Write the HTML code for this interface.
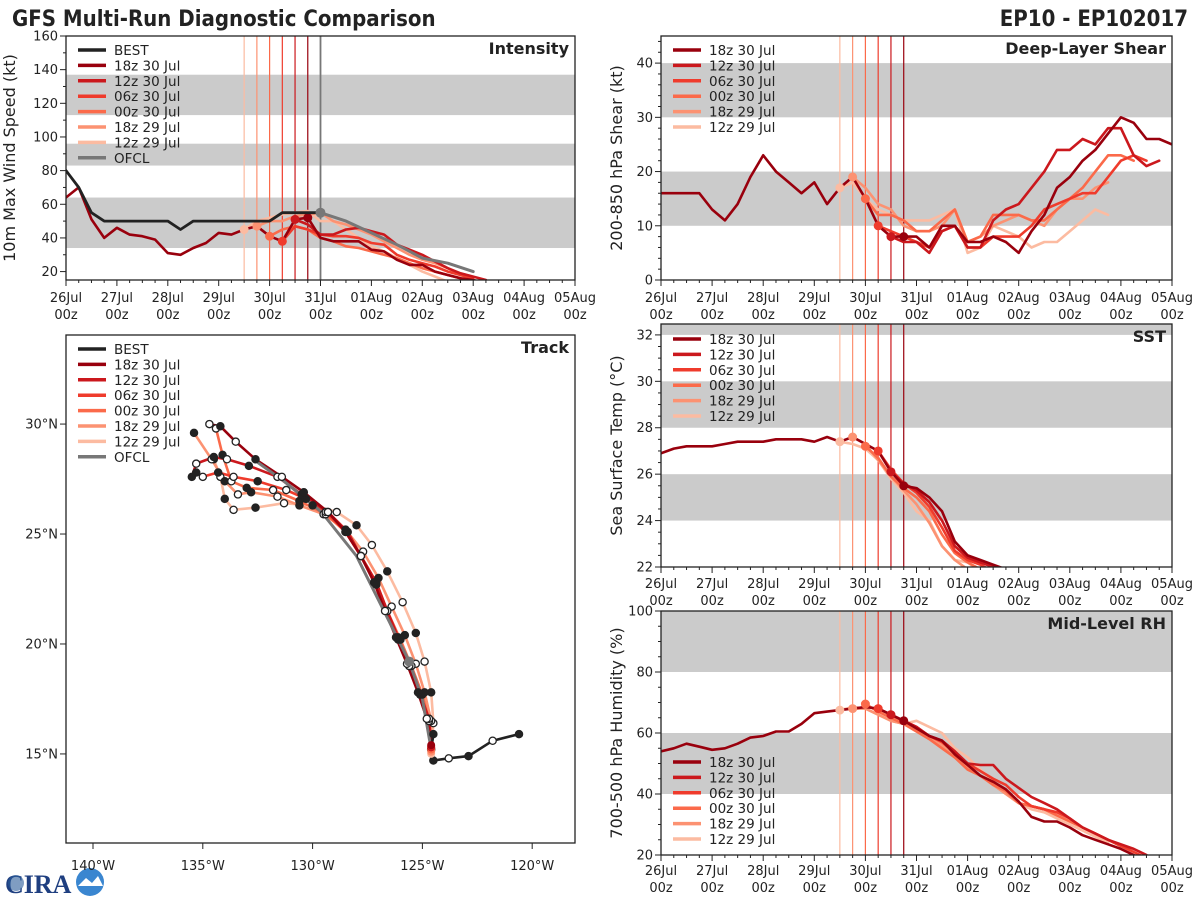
<!DOCTYPE html>
<html><head><meta charset="utf-8">
<style>
html,body{margin:0;padding:0;background:#fff;}
svg{display:block;font-family:"DejaVu Sans","Liberation Sans",sans-serif;}
.cond{font-family:"DejaVu Sans Condensed","DejaVu Sans","Liberation Sans",sans-serif;font-stretch:condensed;}
</style></head>
<body>
<svg id="fig" xmlns="http://www.w3.org/2000/svg" width="1200" height="900" viewBox="0 0 1200 900">
<text class="cond" x="12" y="26" font-size="22" font-weight="bold" fill="#222">GFS Multi-Run Diagnostic Comparison</text>
<text class="cond" x="1188" y="26" font-size="22" font-weight="bold" fill="#222" text-anchor="end">EP10 - EP102017</text>
<g id="logo">
<text x="5" y="893" font-size="26" font-weight="bold" fill="#1f3f80" font-family="Liberation Serif,serif">CIRA</text>
<circle cx="16" cy="883" r="8" fill="#2a5b9a" opacity="0.6"/>
<circle cx="90" cy="882" r="14" fill="#3a86d0"/><path d="M78 886 L86 878 L92 883 L98 876 L103 886 Z" fill="#fff"/>
</g>
</svg>
<script>
// ---------- shared ----------
const runNames = ["12z 29 Jul","18z 29 Jul","00z 30 Jul","06z 30 Jul","12z 30 Jul","18z 30 Jul"];
const runColors = ["#fcbba1","#fc9272","#fb6a4a","#ef3b2c","#cb181d","#99000d"];
const runStart = [3.5,3.75,4.0,4.25,4.5,4.75];
const dayLabels = ["26Jul","27Jul","28Jul","29Jul","30Jul","31Jul","01Aug","02Aug","03Aug","04Aug","05Aug"];

// ---------- intensity (kt) ----------
const intHist = [64,70,51,40,46,42,41,39,31,30,34,37,43,42,45,47,41,38,51,52];
const intBest = [80,70,55,50,50,50,50,50,50,45,50,50,50,50,50,50,50,55,55,55,55];
const intRuns = [
 [45,50,52,54,55,56,50,50,45,40,35,32,28,24,20,17,14],
 [47,50,50,53,54,55,50,48,45,42,38,34,30,27,25,22,18,15],
 [41,45,47,45,40,38,35,34,32,30,28,25,22,20,18,16],
 [38,47,45,42,41,41,40,37,36,30,27,25,23,20,18,16],
 [51,48,42,42,45,46,44,42,36,33,30,26,22,19,17,15],
 [52,40,38,38,38,33,32,27,24,24,20,18,16,15,13]];
const ofclDays = [5,5.5,6,6.5,7,7.5,8];
const ofclVals = [55,50,43,36,28,25,20];

// ---------- shear (kt) ----------
const shrHist = [16,16,16,16,13,11,14,19,23,20,18,16,18,14,17,19,15,10,8,8];
const shrRuns = [
 [17,18,15,13,12,11,11,11,12,13,5,6,10,9,8,6,7,7,9,11,13,12],
 [19,17,14,13,10,9,9,10,13,7,8,10,11,12,11,10,13,15,15,17,18],
 [15,12,12,11,9,9,11,13,7,8,12,12,12,11,11,13,15,17,20,23,23,22],
 [10,9,8,7,6,9,10,6,6,8,8,8,10,13,14,15,16,16,19,22,23,22],
 [8,7,7,5,9,10,6,6,11,13,14,17,20,24,24,26,25,28,28,23,21,22],
 [8,8,6,10,10,7,7,8,7,5,9,12,17,19,22,24,27,30,29,26,26,25]];

// ---------- SST (C) ----------
const sstHist = [26.9,27.1,27.2,27.2,27.2,27.3,27.4,27.4,27.4,27.5,27.5,27.5,27.4,27.6,27.4,27.6,27.3,27.0,26.1,25.5];
const sstRuns = [
 [27.4,27.3,27.1,26.6,25.8,25.2,24.4,24.0,22.9,22.3,22.2,21.8],
 [27.6,27.3,26.6,25.9,25.3,24.7,23.9,22.9,22.3,21.9],
 [27.2,26.7,25.9,25.4,25.0,24.4,23.4,22.6,22.2,21.9],
 [27.0,26.2,25.6,25.2,24.6,23.7,22.7,22.3,22.1,21.8],
 [26.1,25.6,25.3,24.8,24.0,22.9,22.4,22.2,22.0,21.8],
 [25.5,25.4,25.0,24.4,23.1,22.5,22.3,22.1,21.9]];

// ---------- RH (%) ----------
const rhHist = [54,55,56.5,55.5,54.5,55,56.5,58.5,59,60.5,60.5,63,66.5,67,67.5,68,68.5,68,66,64];
const rhRuns = [
 [67.5,68.5,68,66,64,63,64,62,60,55,52,48,44,40,37,35,34,32,30,28,26,24],
 [68,68,66,64,63,61,59,56,52,49,46,43,40,37,36,35,33,31,29,27,25,23],
 [69.5,67,65,63,60.5,58,55,52,48,46,43,41,37,36,35,33,31,29,27,25,23],
 [68,66,64,62,59,57,53.5,50,47.5,45,43,39,36,35,34,32,29,27,25,23,21,19],
 [66,64,62,59,57.5,54,50,49.5,49.5,45,42,39,37,35,32,29,27,25,23.5,22,20],
 [64,61.5,59,57.5,53,49.5,46,44,41.5,37.5,32.5,31,31,29,26.5,25,23.5,22,20,18]];

// ---------- track (deg W, deg N), 12h points ----------
const bestLon = [120.6,121.8,122.9,123.8,124.5,124.6,124.5];
const bestLat = [15.9,15.6,14.9,14.8,14.7,15.2,15.9];
const trkLon = [
 [124.6,124.5,124.6,124.9,125.3,125.9,126.6,127.3,128.0,128.9,130.0,131.3,132.6,133.6,134.0,134.2,134.5],
 [124.6,124.6,124.9,125.3,125.8,126.4,127.0,127.7,128.5,129.5,130.6,131.6,132.8,133.4,134.0,134.6,135.4],
 [124.6,124.7,125.0,125.5,126.0,126.6,127.1,127.8,128.5,129.4,130.6,131.8,133.0,133.7,134.1,134.4],
 [124.6,124.7,125.1,125.6,126.1,126.6,127.1,127.8,128.5,129.4,130.3,131.2,132.5,133.6,134.3,135.0,135.3],
 [124.6,124.7,125.1,125.6,126.1,126.6,127.1,127.8,128.4,129.3,130.5,131.6,132.9,133.9,134.5,135.3,135.5],
 [124.6,124.8,125.2,125.7,126.2,126.7,127.2,127.8,128.5,129.3,130.4,131.4,132.6,133.5,134.2,134.7]];
const trkLat = [
 [15.0,16.4,17.8,19.2,20.5,21.9,23.3,24.5,25.4,26.0,26.3,26.4,26.2,26.1,26.6,27.6,28.4],
 [15.1,16.5,17.8,19.1,20.4,21.7,23.0,24.2,25.2,25.9,26.3,26.7,26.9,26.8,27.4,28.4,29.6],
 [15.2,16.5,17.7,19.0,20.2,21.5,22.8,24.0,25.1,25.9,26.5,27.0,27.1,27.4,28.6,29.8],
 [15.3,16.6,17.7,19.0,20.2,21.5,22.7,24.0,25.1,26.0,26.6,27.0,27.4,27.6,27.8,27.6,27.8],
 [15.3,16.6,17.7,19.0,20.3,21.5,22.8,24.0,25.1,26.0,26.8,27.6,28.1,28.4,28.5,28.2,27.6],
 [15.4,16.6,17.8,19.1,20.3,21.5,22.8,24.0,25.1,26.0,26.9,27.6,28.4,29.2,29.9,30.0]];
const ofclLon = [124.6,125.0,125.6,126.8,128.0,129.6,131.3,132.7];
const ofclLat = [15.2,17.5,19.2,21.6,24.0,26.0,27.4,28.4];

// ---------- drawing ----------
const NS = "http://www.w3.org/2000/svg";
const svg = document.getElementById('fig');
function mk(tag, attrs, parent){ const e=document.createElementNS(NS,tag); for(const k in attrs) e.setAttribute(k,attrs[k]); (parent||svg).appendChild(e); return e; }

function makePanel(p){
  const g = mk('g',{});
  
  
  const sx = v => p.x0 + (v - p.xmin)/(p.xmax - p.xmin)*(p.x1 - p.x0);
  const sy = v => p.y1 - (v - p.ymin)/(p.ymax - p.ymin)*(p.y1 - p.y0);
  const cid = 'clip-' + p.name;
  const cp = mk('clipPath',{id:cid}, g); mk('rect',{x:p.x0,y:p.y0,width:p.x1-p.x0,height:p.y1-p.y0},cp);
  const plot = mk('g',{'clip-path':'url(#'+cid+')'}, g);
  (p.bands||[]).forEach(b=>{
    const r = mk('rect',{x:p.x0,y:sy(b[1]),width:p.x1-p.x0,height:sy(b[0])-sy(b[1]),fill:'#cbcbcb'},plot);
    
    
  });
  return {g,plot,sx,sy,p};
}
function axes(P, opt){
  const {g,sx,sy,p} = P;
  opt.xt.forEach((v,i)=>{
    mk('line',{x1:sx(v),x2:sx(v),y1:p.y1,y2:p.y1+6,stroke:'#222','stroke-width':1},g);
    const t = mk('text',{x:sx(v),y:p.y1+opt.xly,'font-size':13,'text-anchor':'middle',fill:'#222'},g);
    
    
    if(opt.xl2){
      const a=mk('tspan',{x:sx(v)},t); a.textContent=opt.xl[i];
      const b=mk('tspan',{x:sx(v),dy:17},t); b.textContent=opt.xl2;
    } else t.textContent = opt.xl[i];
  });
  (opt.xm||[]).forEach(v=>mk('line',{x1:sx(v),x2:sx(v),y1:p.y1,y2:p.y1+3,stroke:'#222','stroke-width':1},g));
  opt.yt.forEach((v,i)=>{
    mk('line',{x1:p.x0-6,x2:p.x0,y1:sy(v),y2:sy(v),stroke:'#222','stroke-width':1},g);
    const t = mk('text',{x:p.x0-8,y:sy(v)+4.5,'font-size':13,'text-anchor':'end',fill:'#222'},g);
    
    
    t.textContent = opt.yl ? opt.yl[i] : v;
  });
  (opt.ym||[]).forEach(v=>mk('line',{x1:p.x0-3,x2:p.x0,y1:sy(v),y2:sy(v),stroke:'#222','stroke-width':1},g));
  mk('rect',{x:p.x0,y:p.y0,width:p.x1-p.x0,height:p.y1-p.y0,fill:'none',stroke:'#222','stroke-width':1.3},g);
  if(opt.title){
    const t = mk('text',{x:p.x1-6,y:p.y0+18,'font-size':16,'font-weight':'bold','text-anchor':'end',fill:'#222'},g);
    
    
    t.textContent = opt.title;
  }
  if(opt.ylabel){
    const cy=(p.y0+p.y1)/2;
    const t = mk('text',{x:opt.ylx,y:cy,'font-size':16,'text-anchor':'middle',fill:'#222',transform:'rotate(-90 '+opt.ylx+' '+cy+')'},g);
    
    
    t.textContent = opt.ylabel;
  }
}
function line(P, xs, ys, color, w, name){
  const d = xs.map((x,i)=>(i?'L':'M')+P.sx(x).toFixed(1)+' '+P.sy(ys[i]).toFixed(1)).join(' ');
  const e = mk('path',{d:d,fill:'none',stroke:color,'stroke-width':w,'stroke-linejoin':'round','stroke-linecap':'round'},P.plot);
  
  
  return e;
}
function dot(P,x,y,color,r,stroke){
  const c = mk('circle',{cx:P.sx(x),cy:P.sy(y),r:r,fill:color,stroke:stroke||'none','stroke-width':1.3},P.plot);
  
  
}
function initLines(P, extra){
  runStart.forEach((d,i)=>{
    const l = mk('line',{x1:P.sx(d),x2:P.sx(d),y1:P.p.y0,y2:P.p.y1,stroke:runColors[i],'stroke-width':1.2},P.plot);
    
    
  });
  if(extra){
    const l = mk('line',{x1:P.sx(extra),x2:P.sx(extra),y1:P.p.y0,y2:P.p.y1,stroke:'#777','stroke-width':1.8},P.plot);
    
    
  }
}
function steps(start,n){ const a=[]; for(let i=0;i<n;i++) a.push(start+0.25*i); return a; }
function legend(x,y,items,dy){
  const g = mk('g',{});
  
  
  items.forEach((it,i)=>{
    const e = mk('g',{},g);
    
    
    mk('line',{x1:x,x2:x+28,y1:y+i*dy,y2:y+i*dy,stroke:it[1],'stroke-width':3.5},e);
    const t = mk('text',{x:x+36,y:y+i*dy+5,'font-size':13.5,fill:'#222'},e); t.textContent=it[0];
  });
}
const xTicks=[0,1,2,3,4,5,6,7,8,9,10];
const xMinor=[]; for(let i=0;i<40;i++) if(i%4) xMinor.push(i*0.25);
function timeSeries(P, hist, runs){
  initLines(P, P.p.ofcl);
  runs.forEach((r,i)=>{ line(P, steps(runStart[i], r.length), r, runColors[i], 2.6, 'series-'+runNames[i].replace(/ /g,'-').toLowerCase()); });
  line(P, steps(0,hist.length), hist, runColors[5], 2.6, 'analysis-history');
  runs.forEach((r,i)=>dot(P, runStart[i], r[0], runColors[i], 4.5));
}

// Intensity
const I = makePanel({name:'intensity-panel',x0:66,x1:575,y0:36,y1:280,xmin:0,xmax:10,ymin:15,ymax:160,bands:[[34,64],[83,96],[113,137]],ofcl:5});
timeSeries(I, intHist, intRuns);
line(I, ofclDays, ofclVals, '#777', 3, 'ofcl-series');
line(I, steps(0,intBest.length), intBest, '#222', 2.8, 'best-series');
dot(I, 5, 55, '#777', 5);
axes(I,{xt:xTicks,xl:dayLabels,xl2:'00z',xly:22,xm:xMinor,yt:[20,40,60,80,100,120,140,160],ym:[30,50,70,90,110,130,150],title:'Intensity',ylabel:'10m Max Wind Speed (kt)',ylx:15});
legend(78,50,[['BEST','#222']].concat(runNames.map((n,i)=>[n,runColors[i]]).reverse()).concat([['OFCL','#777']]),15.4);

// Shear
const S = makePanel({name:'shear-panel',x0:661,x1:1172,y0:36,y1:280,xmin:0,xmax:10,ymin:0,ymax:45,bands:[[10,20],[30,40]]});
timeSeries(S, shrHist, shrRuns);
axes(S,{xt:xTicks,xl:dayLabels,xl2:'00z',xly:22,xm:xMinor,yt:[0,10,20,30,40],ym:[2,4,6,8,12,14,16,18,22,24,26,28,32,34,36,38,42,44],title:'Deep-Layer Shear',ylabel:'200-850 hPa Shear (kt)',ylx:622});
legend(673,50,runNames.map((n,i)=>[n,runColors[i]]).reverse(),15.4);

// SST
const T = makePanel({name:'sst-panel',x0:661,x1:1172,y0:324,y1:567,xmin:0,xmax:10,ymin:22,ymax:32.47,bands:[[24,26],[28,30],[32,33]]});
timeSeries(T, sstHist, sstRuns);
axes(T,{xt:xTicks,xl:dayLabels,xl2:'00z',xly:21,xm:xMinor,yt:[22,24,26,28,30,32],yl:['22','24','26','28','30','32'],ym:[22.5,23,23.5,24.5,25,25.5,26.5,27,27.5,28.5,29,29.5,30.5,31,31.5],title:'SST',ylabel:'Sea Surface Temp (°C)',ylx:622});
legend(673,339,runNames.map((n,i)=>[n,runColors[i]]).reverse(),15.4);

// RH
const R = makePanel({name:'rh-panel',x0:661,x1:1172,y0:611,y1:855,xmin:0,xmax:10,ymin:20,ymax:100,bands:[[40,60],[80,100]]});
timeSeries(R, rhHist, rhRuns);
axes(R,{xt:xTicks,xl:dayLabels,xl2:'00z',xly:20,xm:xMinor,yt:[20,40,60,80,100],ym:[25,30,35,45,50,55,65,70,75,85,90,95],title:'Mid-Level RH',ylabel:'700-500 hPa Humidity (%)',ylx:622});
legend(673,762,runNames.map((n,i)=>[n,runColors[i]]).reverse(),15.4);

// Track
const K = makePanel({name:'track-panel',x0:66,x1:575,y0:335,y1:843,xmin:-141.23,xmax:-118.05,ymin:10.95,ymax:34.05});
trkLon.forEach((lo,i)=>line(K, lo.map(v=>-v), trkLat[i], runColors[i], 2.6, 'track-'+runNames[i].replace(/ /g,'-').toLowerCase()));
line(K, ofclLon.map(v=>-v), ofclLat, '#777', 3, 'track-ofcl');
line(K, bestLon.map(v=>-v), bestLat, '#222', 2.6, 'track-best');
trkLon.forEach((lo,i)=>lo.forEach((v,j)=>{ if(j>0) dot(K,-v,trkLat[i][j], (j%2)?'#fff':'#222', 3.6, '#222'); }));
bestLon.forEach((v,j)=>dot(K,-v,bestLat[j],(j%2)?'#fff':'#222',3.6,'#222'));
dot(K,-125.6,19.2,'#777',5);
trkLon.forEach((lo,i)=>dot(K,-lo[0],trkLat[i][0],runColors[i],4));
axes(K,{xt:[-140,-135,-130,-125,-120],xl:['140°W','135°W','130°W','125°W','120°W'],xly:27,yt:[15,20,25,30],yl:['15°N','20°N','25°N','30°N'],title:'Track'});
legend(78,349,[['BEST','#222']].concat(runNames.map((n,i)=>[n,runColors[i]]).reverse()).concat([['OFCL','#777']]),15.4);
</script>
</body></html>
